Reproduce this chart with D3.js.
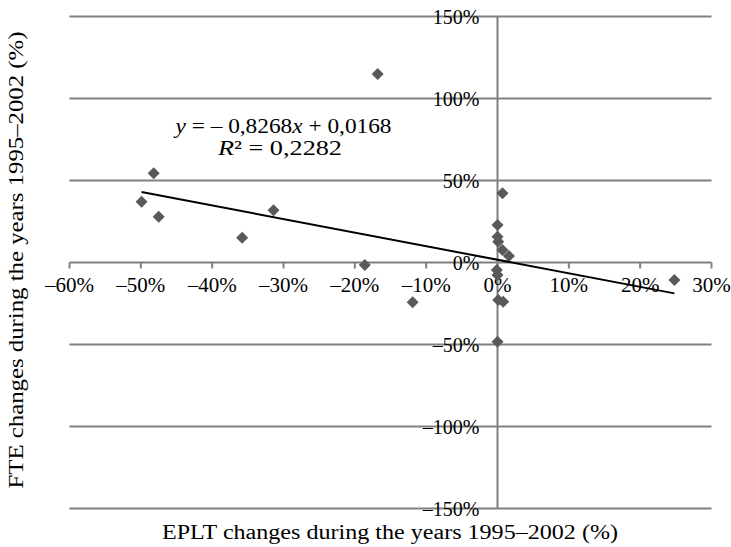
<!DOCTYPE html>
<html>
<head>
<meta charset="utf-8">
<script src="https://cdn.jsdelivr.net/npm/d3@7"></script>
<style>
  html, body { margin: 0; padding: 0; background: #fff; }
  svg text { font-family: "Liberation Serif", "Times New Roman", serif; fill: #000; }
</style>
</head>
<body>
<svg id="chart" width="731" height="547"></svg>
<script>
// EPLT changes (%) and FTE changes (%) 1995–2002
const eplt = [-48.2, -49.9, -47.5, -35.8, -31.4, -18.6, -11.9, -16.8, 0.7, 0.0, 0.0, 0.1, 0.7, 1.6, -0.1, 0.0, 0.1, 0.8, 0.0, 24.8];
const fte  = [54.4, 37.1, 27.9, 15.1, 31.8, -1.5, -24.3, 115.0, 42.2, 22.9, 15.7, 12.7, 7.6, 4.0, -4.6, -7.6, -22.9, -23.9, -48.3, -10.7];
const xTicks = [-60, -50, -40, -30, -20, -10, 0, 10, 20, 30];
const yTicks = [-150, -100, -50, 0, 50, 100, 150];
const slope = -0.8268, intercept = 1.68; // percent units
const eqLine1 = ["y", " = – 0,8268", "x", " + 0,0168"];
const eqLine2 = ["R", "² = 0,2282"];
const xTitle = "EPLT changes during the years 1995–2002 (%)";
const yTitle = "FTE changes during the years 1995–2002 (%)";

const fmt = v => (v < 0 ? "–" + Math.abs(v) : String(v)) + "%";

const svg = d3.select("#chart");
const x = d3.scaleLinear().domain([-60, 30]).range([69.5, 711.5]);
const y = d3.scaleLinear().domain([-150, 150]).range([508.5, 16.5]);
const grid = "#808080";

// horizontal gridlines
svg.append("g").selectAll("line").data(yTicks).join("line")
  .attr("x1", x(-60)).attr("x2", x(30))
  .attr("y1", d => y(d)).attr("y2", d => y(d))
  .attr("stroke", grid).attr("stroke-width", 2);

// vertical axis
svg.append("line")
  .attr("x1", x(0)).attr("x2", x(0))
  .attr("y1", y(150)).attr("y2", y(-150))
  .attr("stroke", grid).attr("stroke-width", 2);

// x ticks
svg.append("g").selectAll("line").data(xTicks).join("line")
  .attr("x1", d => x(d)).attr("x2", d => x(d))
  .attr("y1", y(0)).attr("y2", y(0) + 6)
  .attr("stroke", grid).attr("stroke-width", 2);

// x tick labels
svg.append("g").selectAll("text").data(xTicks).join("text")
  .attr("x", d => x(d)).attr("y", y(0) + 29)
  .attr("text-anchor", "middle").attr("font-size", 21)
  .text(fmt);

// y tick labels
svg.append("g").selectAll("text").data(yTicks).join("text")
  .attr("x", x(0) - 18).attr("y", d => y(d)).attr("dy", "0.35em")
  .attr("text-anchor", "end").attr("font-size", 20)
  .text(fmt);

// points
svg.append("g").selectAll("path").data(eplt.map((v, i) => [v, fte[i]])).join("path")
  .attr("d", d3.symbol(d3.symbolSquare, 72))
  .attr("transform", d => `translate(${x(d[0])},${y(d[1])}) rotate(45)`)
  .attr("fill", "#595959");

// regression line
const x0 = d3.min(eplt), x1 = d3.max(eplt);
svg.append("line")
  .attr("x1", x(x0)).attr("y1", y(slope * x0 + intercept))
  .attr("x2", x(x1)).attr("y2", y(slope * x1 + intercept))
  .attr("stroke", "#000").attr("stroke-width", 2);

// equation
const t1 = svg.append("text").attr("x", 283.5).attr("y", 133).attr("text-anchor", "middle").attr("font-size", 21)
  .attr("textLength", 216).attr("lengthAdjust", "spacingAndGlyphs");
eqLine1.forEach((s, i) => t1.append("tspan").attr("font-style", i % 2 === 0 ? "italic" : "normal").text(s));
const t2 = svg.append("text").attr("x", 280).attr("y", 155).attr("text-anchor", "middle").attr("font-size", 21)
  .attr("textLength", 124).attr("lengthAdjust", "spacingAndGlyphs");
eqLine2.forEach((s, i) => t2.append("tspan").attr("font-style", i === 0 ? "italic" : "normal").text(s));

// axis titles
svg.append("text").attr("x", 390).attr("y", 539).attr("text-anchor", "middle")
  .attr("font-size", 20).attr("textLength", 456).attr("lengthAdjust", "spacingAndGlyphs")
  .text(xTitle);
svg.append("text").attr("transform", "translate(23,260) rotate(-90)").attr("text-anchor", "middle")
  .attr("font-size", 21).attr("textLength", 457).attr("lengthAdjust", "spacingAndGlyphs")
  .text(yTitle);
</script>
</body>
</html>
